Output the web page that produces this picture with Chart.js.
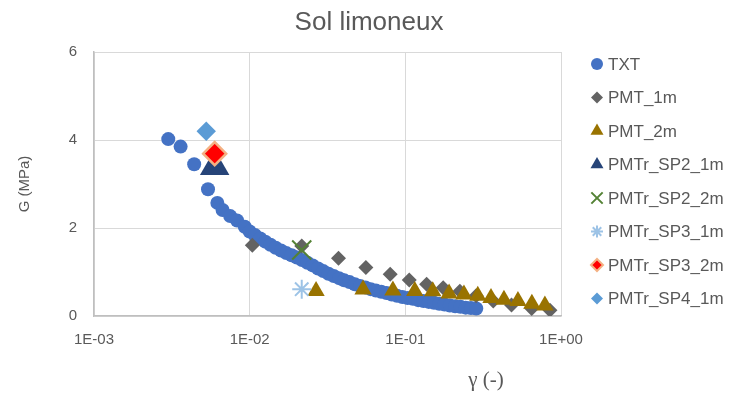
<!DOCTYPE html>
<html>
<head>
<meta charset="utf-8">
<script src="https://cdn.jsdelivr.net/npm/chart.js@4/dist/chart.umd.min.js"></script>
<style>
html, body { margin: 0; padding: 0; background: #fff; }
</style>
</head>
<body>
<canvas id="myChart" width="738" height="394"></canvas>
<script>
// axes
const xTicks = [0.001, 0.01, 0.1, 1];
const xTickLabels = ['1E-03', '1E-02', '1E-01', '1E+00'];
const yTicks = [0, 2, 4, 6];

// series (x = gamma, G in MPa)
const txtX = [0.0030, 0.0036, 0.0044, 0.0054, 0.0062, 0.0067, 0.0075, 0.0083, 0.0093, 0.0100,
	0.0108, 0.0117, 0.0126, 0.0136, 0.0147, 0.0159, 0.0172, 0.0186, 0.0201, 0.0217,
	0.0235, 0.0254, 0.0275, 0.0297, 0.0321, 0.0347, 0.0375, 0.0405, 0.0438, 0.0474,
	0.0512, 0.0554, 0.0599, 0.0647, 0.0700, 0.0757, 0.0818, 0.0885, 0.0957, 0.1035,
	0.1119, 0.1210, 0.1308, 0.1414, 0.1529, 0.1653, 0.1787, 0.1932, 0.2089, 0.2259,
	0.2442, 0.2640, 0.2855];
const txtG = [4.02, 3.85, 3.45, 2.88, 2.57, 2.41, 2.27, 2.17, 2.03, 1.92,
	1.84, 1.76, 1.69, 1.62, 1.55, 1.49, 1.43, 1.38, 1.33, 1.27,
	1.21, 1.15, 1.08, 1.02, 0.96, 0.91, 0.86, 0.81, 0.77, 0.72,
	0.68, 0.65, 0.61, 0.58, 0.55, 0.52, 0.49, 0.46, 0.43, 0.41,
	0.39, 0.36, 0.34, 0.32, 0.30, 0.28, 0.26, 0.24, 0.22, 0.21,
	0.19, 0.18, 0.17];

const pmt1X = [0.0104, 0.0216, 0.0372, 0.0558, 0.0799, 0.106, 0.137, 0.175, 0.224, 0.285, 0.367, 0.481, 0.648, 0.849];
const pmt1G = [1.61, 1.59, 1.31, 1.10, 0.95, 0.82, 0.72, 0.64, 0.56, 0.46, 0.34, 0.25, 0.17, 0.13];

const pmt2X = [0.0267, 0.0535, 0.0832, 0.115, 0.150, 0.191, 0.238, 0.292, 0.355, 0.430, 0.529, 0.650, 0.788];
const pmt2G = [0.57, 0.60, 0.58, 0.57, 0.56, 0.51, 0.49, 0.46, 0.41, 0.37, 0.34, 0.28, 0.24];

const sp21X = [0.00596], sp21G = [3.40];
const sp22X = [0.0216], sp22G = [1.50];
const sp31X = [0.0216], sp31G = [0.61];
const sp32X = [0.00596], sp32G = [3.69];
const sp41X = [0.00526], sp41G = [4.20];

const names = ['TXT', 'PMT_1m', 'PMT_2m', 'PMTr_SP2_1m', 'PMTr_SP2_2m', 'PMTr_SP3_1m', 'PMTr_SP3_2m', 'PMTr_SP4_1m'];

const textColor = '#595959';
const sansFont = '"Liberation Sans", Arial, sans-serif';

function pts(xs, ys) {
	return xs.map((x, i) => ({ x: x, y: ys[i] }));
}

function serie(i, xs, ys, style) {
	return Object.assign({
		label: names[i],
		data: pts(xs, ys),
		showLine: false,
		order: 8 - i
	}, style);
}

const datasets = [
	serie(0, txtX, txtG, { pointStyle: 'circle', pointRadius: 7, backgroundColor: '#4472C4', borderColor: '#4472C4', borderWidth: 0 }),
	serie(1, pmt1X, pmt1G, { pointStyle: 'rectRot', pointRadius: 7.5, backgroundColor: '#636363', borderColor: '#636363', borderWidth: 0 }),
	serie(2, pmt2X, pmt2G, { pointStyle: 'triangle', pointRadius: 10, backgroundColor: '#997300', borderColor: '#997300', borderWidth: 0 }),
	serie(3, sp21X, sp21G, { pointStyle: 'triangle', pointRadius: 17, backgroundColor: '#264478', borderColor: '#264478', borderWidth: 0 }),
	serie(4, sp22X, sp22G, { pointStyle: 'crossRot', pointRadius: 13.5, backgroundColor: '#548235', borderColor: '#548235', borderWidth: 2 }),
	serie(5, sp31X, sp31G, { pointStyle: 'star', pointRadius: 9.5, backgroundColor: '#9DC3E6', borderColor: '#9DC3E6', borderWidth: 2 }),
	serie(6, sp32X, sp32G, { pointStyle: 'rectRot', pointRadius: 11.5, backgroundColor: '#FF0000', borderColor: '#F4B183', borderWidth: 2.5 }),
	serie(7, sp41X, sp41G, { pointStyle: 'rectRot', pointRadius: 9.7, backgroundColor: '#5B9BD5', borderColor: '#5B9BD5', borderWidth: 0 })
];

// legend, title and x axis title, placed like the original
const legendMarks = [
	{ style: 'circle', r: 6, fill: '#4472C4', stroke: '#4472C4', lw: 0 },
	{ style: 'rectRot', r: 6, fill: '#636363', stroke: '#636363', lw: 0 },
	{ style: 'triangle', r: 7.5, fill: '#997300', stroke: '#997300', lw: 0 },
	{ style: 'triangle', r: 7.5, fill: '#264478', stroke: '#264478', lw: 0 },
	{ style: 'crossRot', r: 8, fill: '#548235', stroke: '#548235', lw: 2 },
	{ style: 'star', r: 6, fill: '#9DC3E6', stroke: '#9DC3E6', lw: 2 },
	{ style: 'rectRot', r: 6, fill: '#FF0000', stroke: '#F4B183', lw: 2 },
	{ style: 'rectRot', r: 6, fill: '#5B9BD5', stroke: '#5B9BD5', lw: 0 }
];

const extras = {
	id: 'extras',
	afterDraw(chart) {
		const ctx = chart.ctx;
		ctx.save();
		ctx.fillStyle = textColor;
		ctx.font = '26px ' + sansFont;
		ctx.textAlign = 'center';
		ctx.textBaseline = 'middle';
		ctx.fillText('Sol limoneux', 369, 23);

		for (let i = 0; i < names.length; i++) {
			const m = legendMarks[i];
			const y = 64 + i * 33.5;
			ctx.fillStyle = m.fill;
			ctx.strokeStyle = m.stroke;
			ctx.lineWidth = m.lw;
			Chart.helpers.drawPoint(ctx, { pointStyle: m.style, radius: m.r, rotation: 0, borderWidth: m.lw }, 597, y);
			ctx.fillStyle = textColor;
			ctx.font = '17px ' + sansFont;
			ctx.textAlign = 'left';
			ctx.textBaseline = 'middle';
			ctx.fillText(names[i], 608, y + 1);
		}

		ctx.font = '21px "Liberation Serif", serif';
		ctx.textAlign = 'center';
		ctx.textBaseline = 'middle';
		ctx.fillStyle = textColor;
		ctx.fillText('γ (-)', 486, 380);
		ctx.restore();
	}
};

const ctx = document.getElementById('myChart');
const myChart = new Chart(ctx, {
	type: 'scatter',
	data: { datasets: datasets },
	plugins: [extras],
	options: {
		responsive: false,
		animation: false,
		layout: { padding: { left: 0, right: 177, top: 52, bottom: 0 } },
		plugins: {
			legend: { display: false },
			tooltip: { enabled: false },
			title: { display: false }
		},
		scales: {
			x: {
				type: 'logarithmic',
				min: 0.001,
				max: 1,
				afterBuildTicks: function(scale) {
					scale.ticks = xTicks.map(v => ({ value: v }));
				},
				afterFit: function(scale) {
					scale.height = 78;
				},
				ticks: {
					color: textColor,
					font: { family: sansFont, size: 15 },
					padding: 15,
					maxRotation: 0,
					autoSkip: false,
					callback: function(v) {
						return xTickLabels[xTicks.indexOf(v)];
					}
				},
				grid: { color: '#d9d9d9', drawTicks: false },
				border: { color: '#bfbfbf', width: 1.5 }
			},
			y: {
				min: 0,
				max: 6,
				afterBuildTicks: function(scale) {
					scale.ticks = yTicks.map(v => ({ value: v }));
				},
				afterFit: function(scale) {
					scale.width = 94;
				},
				ticks: {
					color: textColor,
					font: { family: sansFont, size: 15 },
					padding: 17
				},
				grid: { color: '#d9d9d9', drawTicks: false },
				border: { color: '#bfbfbf', width: 1.5 },
				title: {
					display: true,
					text: 'G (MPa)',
					color: textColor,
					font: { family: sansFont, size: 15 },
					padding: { top: 16, bottom: 0 }
				}
			}
		}
	}
});
</script>
</body>
</html>
